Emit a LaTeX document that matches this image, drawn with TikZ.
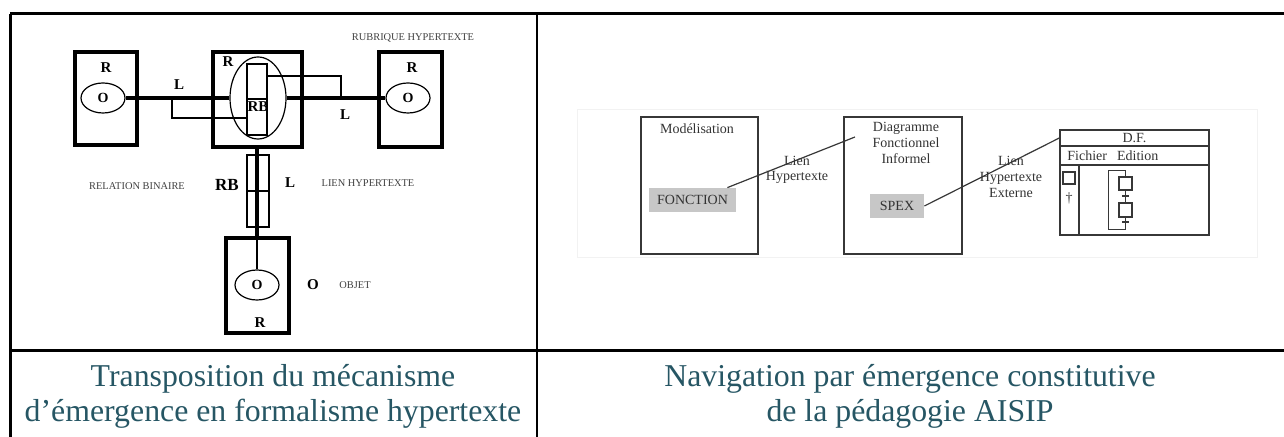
\documentclass[tikz,border=0pt]{standalone}
\usepackage{fontspec}
\setmainfont{Liberation Serif}
\usepackage{xcolor}
\usetikzlibrary{positioning,shapes.geometric}

\definecolor{legende}{RGB}{38,86,100}
\definecolor{trait}{RGB}{55,55,55}

\tikzset{
  cadre/.style={draw, line width=2pt, minimum width=31.5pt, minimum height=47.5pt, inner sep=0pt},
  objet/.style={draw, ellipse, line width=0.6pt, minimum width=22pt, minimum height=15pt, inner sep=0pt, font=\bfseries\fontsize{7}{8}\selectfont},
  lettre/.style={inner sep=0pt, font=\bfseries\fontsize{7.5}{8}\selectfont},
  petit/.style={inner sep=0pt, text=black!75, font=\fontsize{5.2}{6}\selectfont},
  lien/.style={line width=2pt},
  fil/.style={line width=0.6pt},
  boite/.style={draw=trait, line width=0.7pt, inner sep=0pt},
  grise/.style={fill=black!22, inner sep=0pt, text=black!80, font=\fontsize{7}{8}\selectfont},
  texte/.style={inner sep=0pt, text=black!80, font=\fontsize{7}{7.8}\selectfont, align=center},
  titre/.style={inner sep=0pt, text=legende, align=center, font=\fontsize{15.9}{17.5}\selectfont},
}

\begin{document}
\begin{tikzpicture}[x=0.5pt, y=-0.5pt]
  \useasboundingbox (0,0) rectangle (1284,437);

  % tableau
  \draw[line width=1.5pt] (10,14) -- (1284,14);
  \draw[line width=1.5pt] (10,351) -- (1284,351);
  \draw[line width=1.5pt] (10,14) -- (10,437);
  \draw[line width=1pt] (537,14) -- (537,437);

  % rubriques
  \node[cadre, minimum width=31pt, minimum height=46.5pt] (boxG) at (106,98.5) {};
  \node[objet] (oG) at (103,98) {O};
  \node[lettre] (rG) at (106,68) {R};
  \node[cadre, minimum width=44.5pt] (boxC) at (257,99.5) {};
  \node[draw, ellipse, fil, minimum width=28pt, minimum height=41pt, inner sep=0pt] (rub) at (258,98) {};
  \node[draw, line width=1pt, minimum width=10pt, minimum height=35.5pt, inner sep=0pt] (rbC) at (257,99.5) {};
  \draw[line width=1pt] (rbC.west) -- (rbC.east);
  \node[lettre] (rC) at (228,62) {R};
  \node[lettre] (rbTxt) at (258,107) {RB};
  \node[cadre] (boxD) at (410.5,99.5) {};
  \node[objet] (oD) at (408,98) {O};
  \node[lettre] (rD) at (412,68) {R};
  \node[cadre] (boxB) at (257,285.5) {};
  \node[objet] (oB) at (257,285) {O};
  \node[lettre] (rB) at (260,323) {R};
  \node[draw, line width=0.8pt, minimum width=11pt, minimum height=36pt, inner sep=0pt] (rbV) at (258,191) {};
  \draw[line width=0.8pt] (rbV.west) -- (rbV.east);

  % liens
  \draw[lien] (oG.east) -- (rub.west);
  \draw[lien] (rub.east) -- (oD.west);
  \draw[lien] (boxC.south) -- (boxB.north);
  \draw[fil] (boxB.north) -- (oB.north);
  \coordinate (cG) at (172,118);
  \coordinate (cD) at (341,76);
  \draw[fil] (cG |- oG.east) |- (rbC.west |- cG);
  \draw[fil] (rbC.east |- cD) -| (cD |- oD.west);

  % legendes
  \node[lettre] (lG) at (179,85) {L};
  \node[lettre] (lD) at (345,115) {L};
  \node[lettre] (lV) at (290,183) {L};
  \node[lettre, font=\bfseries\fontsize{8.5}{9}\selectfont] (rbL) at (227,185) {RB};
  \node[lettre] (oL) at (313,285) {O};
  \node[petit] (relation) at (137,186) {RELATION BINAIRE};
  \node[petit] (lienH) at (368,183) {LIEN HYPERTEXTE};
  \node[petit] (rubrique) at (413,38) {RUBRIQUE HYPERTEXTE};
  \node[petit] (objet) at (355,285) {OBJET};

  % navigation
  \draw[black!5] (577,109) rectangle (1257,257);
  \node[boite, minimum width=58.5pt, minimum height=68.5pt] (modele) at (699.5,185.5) {};
  \node[texte] (modTxt) at (697,129) {Modélisation};
  \node[grise, minimum width=43.5pt, minimum height=12pt] (fonction) at (692.5,200) {FONCTION};
  \node[boite, minimum width=59pt, minimum height=68.5pt] (dfi) at (903,185.5) {};
  \node[texte] (dfiTxt) at (906,143) {Diagramme\\Fonctionnel\\Informel};
  \node[grise, minimum width=27pt, minimum height=12pt] (spex) at (897,206) {SPEX};
  \node[texte] (lien1) at (797,170) {Lien\\Hypertexte};
  \node[texte] (lien2) at (1011,177) {Lien\\Hypertexte\\Externe};
  \coordinate (p1) at (855,137);
  \draw[trait, line width=0.6pt] ([xshift=-4.5pt]fonction.north east) -- (p1);

  % fenetre D.F.
  \node[boite, minimum width=74.5pt, minimum height=8pt, font=\fontsize{7}{8}\selectfont, text=black!80] (titreDF) at (1134.5,138) {D.F.};
  \node[boite, minimum width=74.5pt, minimum height=9.5pt] (menu) at (1134.5,155.5) {};
  \node[texte, anchor=west] (menuTxt) at (1067,155.5) {Fichier\hspace{5pt}Edition};
  \node[boite, minimum width=74.5pt, minimum height=35pt] (corps) at (1134.5,200) {};
  \draw[trait, line width=0.7pt] (1079,165) -- (1079,235);
  \node[boite, minimum width=6pt, minimum height=6pt] (outil) at (1069,178) {};
  \node[texte] (croix) at (1069,198) {\dag};
  \draw[trait, line width=0.6pt] (spex.east) -- (titreDF.west);

  % grafcet
  \node[boite, line width=0.6pt, minimum width=6.5pt, minimum height=6.5pt] (e1) at (1125.5,183.5) {};
  \node[boite, line width=0.6pt, minimum width=6.5pt, minimum height=7pt] (e2) at (1125.5,210) {};
  \draw[trait, line width=0.5pt] (e1.south) -- (e2.north);
  \draw[trait, line width=0.5pt] (e2.south) -- ++(0,12) -| (1108,171) -| (e1.north);
  \draw[trait, line width=0.7pt] (1122,196) -- (1129,196);
  \draw[trait, line width=0.7pt] (1122,222) -- (1129,222);

  % titres
  \node[titre] (capG) at (273,396) {Transposition du mécanisme\\d’émergence en formalisme hypertexte};
  \node[titre] (capD) at (910,396) {Navigation par émergence constitutive\\de la pédagogie AISIP};
\end{tikzpicture}
\end{document}
